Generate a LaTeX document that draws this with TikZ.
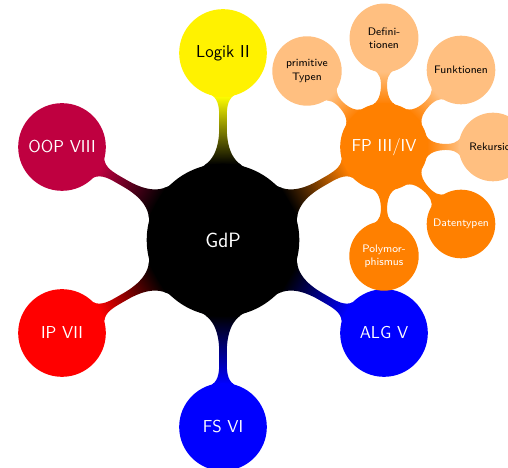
\documentclass[tikz,border=0pt]{standalone}
\usetikzlibrary{mindmap,backgrounds}
\begin{document}
\begin{tikzpicture}[x=0.02649cm,y=0.02649cm,mindmap,
  rootc/.style={concept,concept color=black,text=white,minimum size=4cm,text width=3.5cm,align=center,
    font=\sffamily\fontsize{15.6}{18}\selectfont},
  lone/.style={concept,minimum size=2.28cm,text width=2.1cm,align=center,
    font=\sffamily\fontsize{13}{15}\selectfont},
  ltwo/.style={concept,minimum size=1.775cm,text width=1.6cm,align=center,
    font=\sffamily\fontsize{8.2}{10}\selectfont}]
\useasboundingbox (0,0) rectangle (508,468);
\node[rootc] (gdp) at (223,228) {GdP};
\node[lone,concept color=yellow,text=black] (logik) at (223,415) {Logik II};
\node[lone,concept color=orange,text=white] (fp) at (384,321) {FP III/IV};
\node[lone,concept color=blue,text=white] (alg) at (384,135) {ALG V};
\node[lone,concept color=blue,text=white] (fs) at (223,41) {FS VI};
\node[lone,concept color=red,text=white] (ip) at (62,135) {IP VII};
\node[lone,concept color=purple,text=white] (oop) at (62,321) {OOP VIII};
\node[ltwo,concept color=orange!50,text=black] (prim) at (307,397) {primitive\\Typen};
\node[ltwo,concept color=orange!50,text=black] (def) at (384,430) {Defini-\\tionen};
\node[ltwo,concept color=orange!50,text=black] (funk) at (461,398) {Funktionen};
\node[ltwo,concept color=orange!50,text=black] (rek) at (493,321) {Rekursion};
\node[ltwo,concept color=orange,text=white] (dat) at (461,244) {Datentypen};
\node[ltwo,concept color=orange,text=white] (poly) at (384,212) {Polymor-\\phismus};
\begin{scope}[on background layer]
\path (gdp) to[circle connection bar switch color=from (black) to (yellow)] (logik);
\path (gdp) to[circle connection bar switch color=from (black) to (orange)] (fp);
\path (gdp) to[circle connection bar switch color=from (black) to (blue)] (alg);
\path (gdp) to[circle connection bar switch color=from (black) to (blue)] (fs);
\path (gdp) to[circle connection bar switch color=from (black) to (red)] (ip);
\path (gdp) to[circle connection bar switch color=from (black) to (purple)] (oop);
\path (fp) to[circle connection bar switch color=from (orange) to (orange!50)] (prim);
\path (fp) to[circle connection bar switch color=from (orange) to (orange!50)] (def);
\path (fp) to[circle connection bar switch color=from (orange) to (orange!50)] (funk);
\path (fp) to[circle connection bar switch color=from (orange) to (orange!50)] (rek);
\path (fp) to[circle connection bar switch color=from (orange) to (orange)] (dat);
\path (fp) to[circle connection bar switch color=from (orange) to (orange)] (poly);
\end{scope}
\end{tikzpicture}
\end{document}
